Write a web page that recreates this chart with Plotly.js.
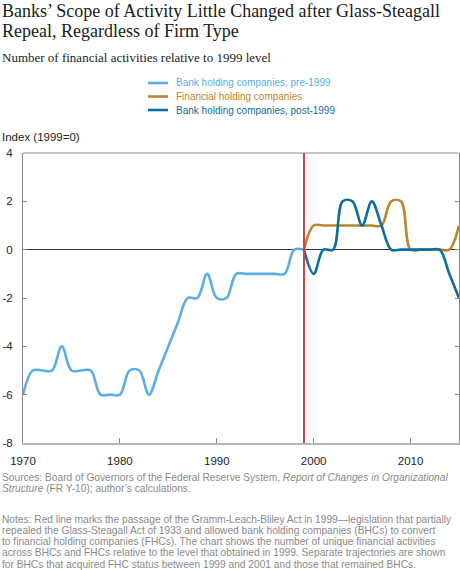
<!DOCTYPE html>
<html>
<head>
<meta charset="utf-8">
<script src="https://cdn.plot.ly/plotly-3.0.1.min.js"></script>
<style>
html,body{margin:0;padding:0;background:#fff;}
#chart{width:460px;height:570px;}
</style>
</head>
<body>
<div id="chart"></div>
<script>
// ---- data ----
const yearsPre = [1970,1971,1972,1973,1974,1975,1976,1977,1978,1979,1980,1981,1982,1983,1984,1985,1986,1987,1988,1989,1990,1991,1992,1993,1994,1995,1996,1997,1998,1999];
const bhcPre   = [-6,-5,-5,-5,-4,-5,-5,-5,-6,-6,-6,-5,-5,-6,-5,-4,-3,-2,-2,-1,-2,-2,-1,-1,-1,-1,-1,-1,0,0];
const yearsPost = [1999,2000,2001,2002,2003,2004,2005,2006,2007,2008,2009,2010,2011,2012,2013,2014,2015];
const fhc      = [0,1,1,1,1,1,1,1,1,2,2,0,0,0,0,0,1];
const bhcPost  = [0,-1,0,0,2,2,1,2,1,0,0,0,0,0,0,-1,-2];
const seriesNames = ["Bank holding companies, pre-1999","Financial holding companies","Bank holding companies, post-1999"];
const seriesColors = ["#5aaee3","#b8862c","#0d6d9f"];
const xTicks = [1970,1980,1990,2000,2010];
const yTicks = [-8,-6,-4,-2,0,2,4];
const glbYear = 1999;

const titleLines = ["Banks\u2019 Scope of Activity Little Changed after Glass-Steagall","Repeal, Regardless of Firm Type"];
const subtitle = "Number of financial activities relative to 1999 level";
const yLabel = "Index (1999=0)";
const sourceLines = [
 "Sources: Board of Governors of the Federal Reserve System, <i>Report of Changes in Organizational</i>",
 "<i>Structure</i> (FR Y-10); author\u2019s calculations."
];
const noteLines = [
 "Notes: Red line marks the passage of the Gramm-Leach-Bliley Act in 1999\u2014legislation that partially",
 "repealed the Glass-Steagall Act of 1933 and allowed bank holding companies (BHCs) to convert",
 "to financial holding companies (FHCs). The chart shows the number of unique financial activities",
 "across BHCs and FHCs relative to the level that obtained in 1999. Separate trajectories are shown",
 "for BHCs that acquired FHC status between 1999 and 2001 and those that remained BHCs."
];

// ---- layout geometry ----
const L=23, R=459, T=153, B=443;
const W=460, H=570;
const px = X => (X-L)/(R-L);
const py = Y => (B-Y)/(B-T);
const sans = 'Liberation Sans, Arial, sans-serif';

const xs=[yearsPre,yearsPost,yearsPost], ys=[bhcPre,fhc,bhcPost];
const traces = xs.map((x,i)=>({
  x:x, y:ys[i], type:'scatter', mode:'lines', name:seriesNames[i],
  line:{color:seriesColors[i], width:2.6, shape:'spline', smoothing:1},
  showlegend:false, hoverinfo:'skip'
}));

const annotations = [];
const shapes = [];
const note = (text, X, Y, font) => annotations.push({text:text, xref:'paper', yref:'paper', x:px(X), y:py(Y), xanchor:'left', yanchor:'middle', showarrow:false, font:font});
// title
titleLines.forEach((t,i)=>note(t, 0, 11+20*i, {family:'Liberation Serif, serif', size:18, color:'#1a1a1a'}));
note(subtitle, 0, 58, {family:'Liberation Serif, serif', size:13, color:'#222'});
// legend
seriesNames.forEach((n,i)=>{
  const Y = 83+13.5*i;
  shapes.push({type:'line', xref:'paper', yref:'paper', x0:px(148), x1:px(168), y0:py(Y), y1:py(Y), line:{color:seriesColors[i], width:2.6}});
  note(n, 174, Y, {family:sans, size:10, color:seriesColors[i]});
});
note(yLabel, 0, 137, {family:sans, size:11.5, color:'#222'});
// footnotes
sourceLines.forEach((t,i)=>note(t, 0, 477+11.6*i, {family:sans, size:10.2, color:'#8a8a8a'}));
noteLines.forEach((t,i)=>note(t, 0, 519+11.3*i, {family:sans, size:10.2, color:'#8a8a8a'}));
// red GLB line
shapes.push({type:'line', xref:'x', yref:'paper', x0:glbYear, x1:glbYear, y0:0, y1:1, line:{color:'#c9474b', width:2}, layer:'above'});
// top frame
shapes.push({type:'line', xref:'paper', yref:'paper', x0:0, x1:1, y0:1, y1:1, line:{color:'#888', width:1}});

const layout = {
  width:W, height:H,
  margin:{l:L, r:W-R, t:T, b:H-B, pad:0},
  paper_bgcolor:'#fff', plot_bgcolor:'#fff',
  showlegend:false,
  xaxis:{range:[1970,2015], tickvals:xTicks, ticktext:xTicks.map(String), ticks:'inside', ticklen:5, tickcolor:'#888', tickwidth:1,
         showline:true, linecolor:'#b4b4b4', linewidth:2, showgrid:false, zeroline:false, ticklabelstandoff:6,
         tickfont:{family:sans, size:11.5, color:'#222'}, fixedrange:true},
  yaxis:{range:[-8,4], tickvals:yTicks, ticktext:yTicks.map(String), ticks:'inside', ticklen:4, tickcolor:'#888', tickwidth:1,
         showline:true, linecolor:'#888', linewidth:1, mirror:'ticks', showgrid:false,
         zeroline:true, zerolinecolor:'#333', zerolinewidth:1.5, ticklabelstandoff:7,
         tickfont:{family:sans, size:11.5, color:'#222'}, fixedrange:true},
  annotations:annotations, shapes:shapes
};
Plotly.newPlot('chart', traces, layout, {displayModeBar:false, staticPlot:true});
</script>
</body>
</html>
